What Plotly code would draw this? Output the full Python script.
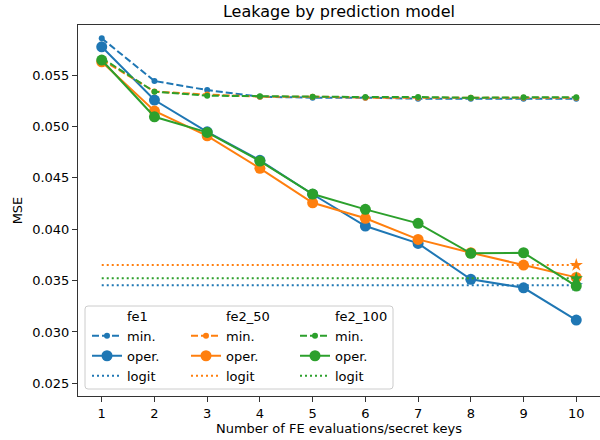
import plotly.graph_objects as go

x_keys = [1, 2, 3, 4, 5, 6, 7, 8, 9, 10]
models = ["fe1", "fe2_50", "fe2_100"]
colors = ["#1f77b4", "#ff7f0e", "#2ca02c"]

min_fe1 = [0.05857, 0.05442, 0.05354, 0.05289, 0.0528, 0.0528, 0.0527, 0.0527, 0.0527, 0.0527]
min_fe2_50 = [0.0565, 0.0534, 0.0531, 0.0529, 0.0529, 0.0528, 0.0528, 0.0528, 0.0528, 0.0528]
min_fe2_100 = [0.05665, 0.05338, 0.05299, 0.05293, 0.0529, 0.05286, 0.05286, 0.05279, 0.05283, 0.05283]

oper_fe1 = [0.05775, 0.05257, 0.04948, 0.0467, 0.0434, 0.04031, 0.03862, 0.03512, 0.0343, 0.03116]
oper_fe2_50 = [0.05629, 0.0515, 0.04909, 0.04592, 0.04257, 0.04106, 0.03901, 0.03771, 0.03651, 0.03531]
oper_fe2_100 = [0.05646, 0.05094, 0.04942, 0.04663, 0.04342, 0.04193, 0.04057, 0.03765, 0.03771, 0.03447]

logit_fe1 = 0.03454
logit_fe2_50 = 0.03651
logit_fe2_100 = 0.03522

y_ticks = [0.025, 0.030, 0.035, 0.040, 0.045, 0.050, 0.055]

mins = [min_fe1, min_fe2_50, min_fe2_100]
opers = [oper_fe1, oper_fe2_50, oper_fe2_100]
logits = [logit_fe1, logit_fe2_50, logit_fe2_100]
legend_ids = ["legend", "legend2", "legend3"]

FONT = "DejaVu Sans"
fig = go.Figure()

for name, col, mn, op, lg, lid in zip(models, colors, mins, opers, logits, legend_ids):
    # header entry (no handle)
    fig.add_trace(go.Scatter(x=[None], y=[None], mode="lines", name=name,
                             line=dict(color="rgba(0,0,0,0)", width=0), legend=lid,
                             hoverinfo="skip"))
    fig.add_trace(go.Scatter(x=x_keys, y=mn, mode="lines+markers", name="min.",
                             line=dict(color=col, width=2, dash="7px,3px"),
                             marker=dict(size=6, color=col), legend=lid))
    fig.add_trace(go.Scatter(x=x_keys, y=op, mode="lines+markers", name="oper.",
                             line=dict(color=col, width=2),
                             marker=dict(size=11, color=col), legend=lid))
    fig.add_trace(go.Scatter(x=x_keys, y=[lg] * len(x_keys), mode="lines", name="logit",
                             line=dict(color=col, width=2, dash="2px,3px"), legend=lid))
    fig.add_trace(go.Scatter(x=[x_keys[-1]], y=[lg], mode="markers", showlegend=False,
                             marker=dict(symbol="star", size=10, color=col)))

W, H = 600, 440
L, R, T, B = 78, 0, 25, 44
pw, ph = W - L - R, H - T - B

def px2paper(px, py):
    return (px - L) / pw, (H - B - py) / ph

# legend frame (rounded)
x0, y1 = px2paper(85, 306)
x1, y0 = px2paper(393, 389)
rx, ry = 3 / pw, 3 / ph
path = (f"M {x0+rx},{y1} L {x1-rx},{y1} Q {x1},{y1} {x1},{y1-ry} "
        f"L {x1},{y0+ry} Q {x1},{y0} {x1-rx},{y0} L {x0+rx},{y0} "
        f"Q {x0},{y0} {x0},{y0+ry} L {x0},{y1-ry} Q {x0},{y1} {x0+rx},{y1} Z")
fig.add_shape(type="path", path=path, xref="paper", yref="paper",
              line=dict(color="#cccccc", width=1), fillcolor="rgba(255,255,255,0.8)",
              layer="above")

legend_common = dict(bgcolor="rgba(0,0,0,0)", borderwidth=0, font=dict(family=FONT, size=13, color="#000"),
                     xanchor="left", yanchor="top", tracegroupgap=0, itemwidth=30,
                     itemclick=False, itemdoubleclick=False)
ly = px2paper(0, 301)[1]
lx1 = px2paper(87, 0)[0]
lx2 = px2paper(186, 0)[0]
lx3 = px2paper(295, 0)[0]

fig.update_layout(
    width=W, height=H,
    margin=dict(l=L, r=R, t=T, b=B, pad=0),
    paper_bgcolor="white", plot_bgcolor="white",
    font=dict(family=FONT, size=13, color="#000"),
    title=dict(text="Leakage by prediction model", x=(L + pw / 2) / W, xanchor="center",
               y=1 - 11 / H, yanchor="middle", font=dict(family=FONT, size=16, color="#000")),
    legend=dict(x=lx1, y=ly, **legend_common),
    legend2=dict(x=lx2, y=ly, **legend_common),
    legend3=dict(x=lx3, y=ly, **legend_common),
    xaxis=dict(range=[0.55, 10.45], tickmode="array", tickvals=x_keys,
               ticktext=[str(v) for v in x_keys],
               showgrid=False, zeroline=False, showline=True, mirror=True,
               linecolor="#333", linewidth=1, ticks="outside", ticklen=5, tickcolor="#333",
               tickfont=dict(family=FONT, size=13, color="#000"),
               title=dict(text="Number of FE evaluations/secret keys", standoff=4,
                          font=dict(family=FONT, size=13, color="#000"))),
    yaxis=dict(range=[0.02377, 0.05987], tickmode="array", tickvals=y_ticks,
               ticktext=[f"{v:.3f}" for v in y_ticks],
               showgrid=False, zeroline=False, showline=True, mirror=True,
               linecolor="#333", linewidth=1, ticks="outside", ticklen=5, tickcolor="#333",
               tickfont=dict(family=FONT, size=13, color="#000"),
               title=dict(text="MSE", standoff=6, font=dict(family=FONT, size=13, color="#000"))),
)

# the page body has a default 8px margin; remove it so the figure sits at the window origin
fig.write_html("out.html", config={"displayModeBar": False},
               post_script="document.body.style.margin='0';")
